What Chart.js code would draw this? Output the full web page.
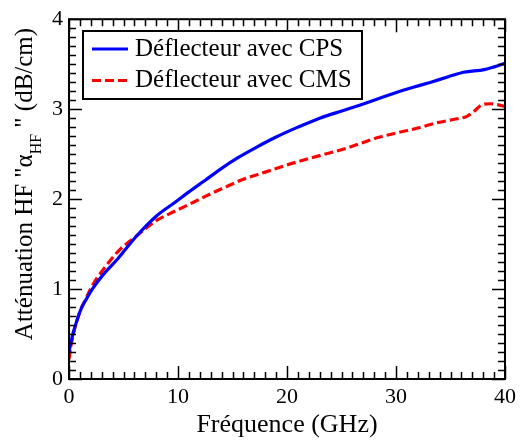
<!DOCTYPE html>
<html>
<head>
<meta charset="utf-8">
<script src="https://cdn.jsdelivr.net/npm/chart.js@4/dist/chart.umd.min.js"></script>
<style>
  html, body { margin: 0; padding: 0; background: #fff; }
  #c { display: block; }
</style>
</head>
<body>
<canvas id="c" width="521" height="441"></canvas>
<script>
// ---- data ----
const freqCPS = [0, 0.2, 0.4, 0.7, 1.15, 1.6, 2.2, 3.1, 4.5, 6.2, 8.0, 9.8, 11.0, 12.5, 14.1, 15.5, 17.1, 19.0, 21.0, 23.0, 25.3, 26.8, 28.5, 29.9, 31.5, 33.2, 34.8, 36.2, 38.1, 39.0, 40.0];
const attCPS  = [0.30, 0.42, 0.52, 0.64, 0.79, 0.89, 1.01, 1.155, 1.34, 1.59, 1.81, 1.97, 2.08, 2.21, 2.35, 2.46, 2.57, 2.69, 2.80, 2.90, 2.99, 3.05, 3.12, 3.18, 3.24, 3.30, 3.36, 3.41, 3.44, 3.47, 3.51];
const freqCMS = [0, 0.2, 0.5, 1.0, 1.5, 2.2, 3.1, 4.6, 6.3, 8.0, 9.8, 11.0, 12.5, 14.1, 16.0, 18.0, 20.0, 21.7, 23.8, 25.3, 27.0, 28.5, 30.2, 32.0, 33.8, 35.5, 36.5, 37.2, 37.9, 38.7, 39.3, 40.0];
const attCMS  = [0.22, 0.38, 0.55, 0.75, 0.88, 1.05, 1.21, 1.43, 1.60, 1.76, 1.87, 1.94, 2.03, 2.12, 2.22, 2.30, 2.38, 2.44, 2.51, 2.56, 2.63, 2.69, 2.74, 2.79, 2.85, 2.89, 2.92, 2.98, 3.05, 3.06, 3.05, 3.03];
const seriesLabels = ["Déflecteur avec CPS", "Déflecteur avec CMS"];
const xTitle = "Fréquence (GHz)";
const yTitleMain = "Atténuation HF \"α";
const yTitleSub = "HF";
const yTitleEnd = " \" (dB/cm)";
const xRange = [0, 40];
const yRange = [0, 4];

const FONT = "'Liberation Serif', 'Times New Roman', serif";

function toPts(xs, ys) { return xs.map((x, i) => ({ x: x, y: ys[i] })); }

const framePlugin = {
  id: 'frame',
  afterDatasetsDraw(chart) {
    const ctx = chart.ctx;
    const a = chart.chartArea;
    const xs = chart.scales.x, ys = chart.scales.y;
    ctx.save();
    ctx.strokeStyle = '#000';
    // ticks
    ctx.lineWidth = 1.5;
    ctx.beginPath();
    for (let v = xRange[0]; v <= xRange[1]; v += 1) {
      const p = Math.round(xs.getPixelForValue(v)) + 0.5;
      const len = (v % 10 === 0) ? 13 : 7;
      ctx.moveTo(p, a.bottom); ctx.lineTo(p, a.bottom - len);
      ctx.moveTo(p, a.top); ctx.lineTo(p, a.top + len);
    }
    for (let k = 0; k <= 40; k++) {
      const v = k / 10;
      const p = Math.round(ys.getPixelForValue(v)) + 0.5;
      const len = (k % 10 === 0) ? 13 : 7;
      ctx.moveTo(a.left, p); ctx.lineTo(a.left + len, p);
      ctx.moveTo(a.right, p); ctx.lineTo(a.right - len, p);
    }
    ctx.stroke();
    // frame
    ctx.lineWidth = 2;
    ctx.strokeRect(a.left, a.top, a.right - a.left, a.bottom - a.top);

    // legend
    ctx.fillStyle = '#fff';
    ctx.fillRect(83, 31, 279, 68);
    ctx.lineWidth = 2;
    ctx.strokeRect(83, 31, 279, 68);
    const ds = chart.data.datasets;
    const rows = [{ y: 49, tb: 56 }, { y: 80.5, tb: 87 }];
    ds.forEach((d, i) => {
      ctx.beginPath();
      ctx.strokeStyle = d.borderColor;
      ctx.lineWidth = d.borderWidth;
      ctx.setLineDash(d.borderDash || []);
      ctx.moveTo(92, rows[i].y); ctx.lineTo(128, rows[i].y);
      ctx.stroke();
      ctx.setLineDash([]);
      ctx.fillStyle = '#000';
      ctx.font = "25px " + FONT;
      ctx.textAlign = 'left';
      ctx.textBaseline = 'alphabetic';
      ctx.fillText(d.label, 135, rows[i].tb);
    });

    // x title
    ctx.fillStyle = '#000';
    ctx.font = "26px " + FONT;
    ctx.textAlign = 'center';
    ctx.textBaseline = 'alphabetic';
    ctx.fillText(xTitle, (a.left + a.right) / 2, 432);

    // y title with subscript
    const mainF = "25px " + FONT, subF = "16px " + FONT;
    ctx.font = mainF; const w1 = ctx.measureText(yTitleMain).width;
    const w3 = ctx.measureText(yTitleEnd).width;
    ctx.font = subF; const w2 = ctx.measureText(yTitleSub).width;
    const total = w1 + w2 + w3;
    ctx.translate(31.5, 184);
    ctx.rotate(-Math.PI / 2);
    ctx.textAlign = 'left';
    let x0 = -total / 2;
    ctx.font = mainF; ctx.fillText(yTitleMain, x0, 0); x0 += w1;
    ctx.font = subF; ctx.fillText(yTitleSub, x0, 9); x0 += w2;
    ctx.font = mainF; ctx.fillText(yTitleEnd, x0, 0);
    ctx.restore();
  }
};

new Chart(document.getElementById('c'), {
  type: 'line',
  data: {
    datasets: [
      { label: seriesLabels[0], data: toPts(freqCPS, attCPS), borderColor: '#0000ff', borderWidth: 3.2, pointRadius: 0, fill: false, cubicInterpolationMode: 'monotone' },
      { label: seriesLabels[1], data: toPts(freqCMS, attCMS), borderColor: '#ff0000', borderWidth: 3.2, borderDash: [9, 4], pointRadius: 0, fill: false, cubicInterpolationMode: 'monotone' }
    ]
  },
  options: {
    responsive: false,
    animation: false,
    devicePixelRatio: 1,
    layout: { padding: { left: 0, top: 13, right: 13, bottom: 0 } },
    plugins: { legend: { display: false }, tooltip: { enabled: false } },
    scales: {
      x: {
        type: 'linear', min: xRange[0], max: xRange[1],
        grid: { display: false, drawTicks: false },
        border: { display: false },
        ticks: { stepSize: 10, padding: 5, color: '#000', font: { family: FONT, size: 22 }, maxRotation: 0 },
        afterFit(s) { s.height = 62; }
      },
      y: {
        type: 'linear', min: yRange[0], max: yRange[1],
        grid: { display: false, drawTicks: false },
        border: { display: false },
        ticks: { stepSize: 1, padding: 6, color: '#000', font: { family: FONT, size: 22 } },
        afterFit(s) { s.width = 69; }
      }
    }
  },
  plugins: [framePlugin]
});
</script>
</body>
</html>
